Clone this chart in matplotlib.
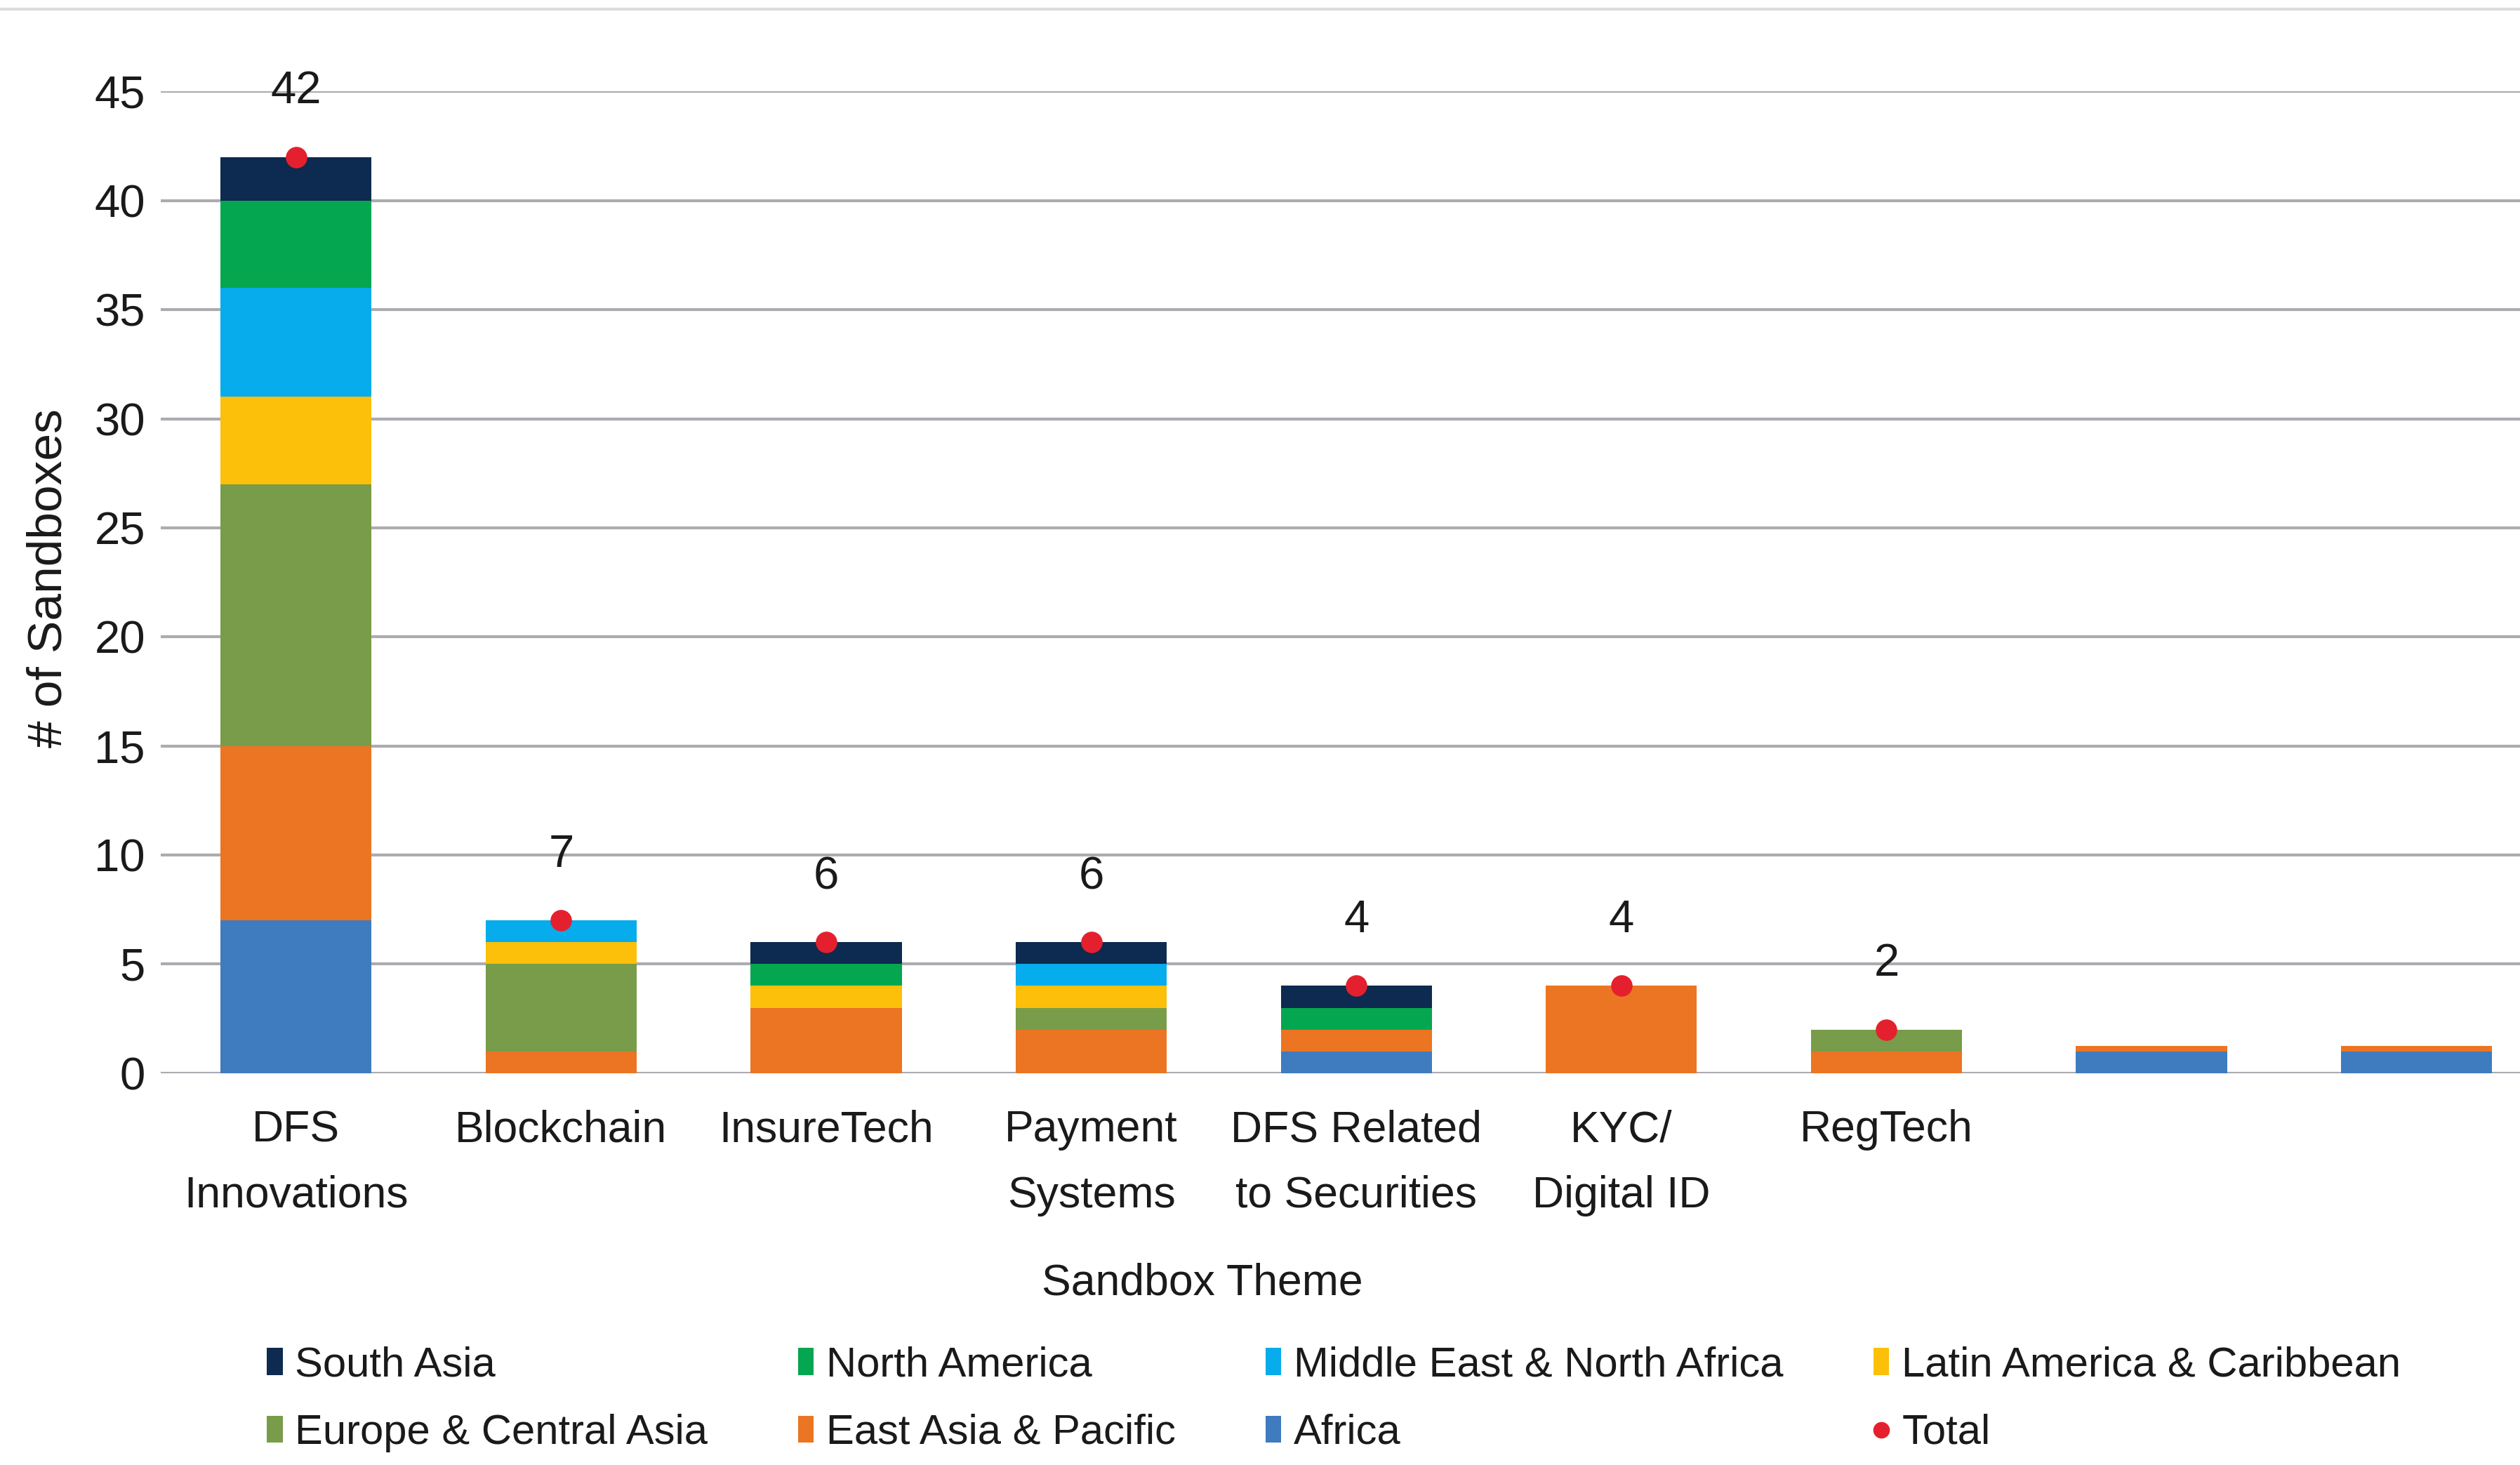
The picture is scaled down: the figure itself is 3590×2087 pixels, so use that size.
import matplotlib
matplotlib.use("Agg")
import matplotlib.pyplot as plt
import numpy as np
from matplotlib.lines import Line2D
from matplotlib.patches import Patch

plt.rcParams["font.family"] = ["Liberation Sans", "DejaVu Sans"]

themes = ["DFS\nInnovations", "Blockchain", "InsureTech", "Payment\nSystems",
          "DFS Related\nto Securities", "KYC/\nDigital ID", "RegTech", "", ""]

# stacked from bottom to top
africa = [7, 0, 0, 0, 1, 0, 0, 1, 1]
east_asia = [8, 1, 3, 2, 1, 4, 1, 0.25, 0.25]
europe = [12, 4, 0, 1, 0, 0, 1, 0, 0]
latam = [4, 1, 1, 1, 0, 0, 0, 0, 0]
mena = [5, 1, 0, 1, 0, 0, 0, 0, 0]
north_america = [4, 0, 1, 0, 1, 0, 0, 0, 0]
south_asia = [2, 0, 1, 1, 1, 0, 0, 0, 0]
totals = [42, 7, 6, 6, 4, 4, 2]

series = [
    ("Africa", africa, "#3F7BBF"),
    ("East Asia & Pacific", east_asia, "#EB7523"),
    ("Europe & Central Asia", europe, "#789C49"),
    ("Latin America & Caribbean", latam, "#FCBF0A"),
    ("Middle East & North Africa", mena, "#06ACEB"),
    ("North America", north_america, "#05A650"),
    ("South Asia", south_asia, "#0D2A50"),
]
colors = {name: c for name, _, c in series}
red = "#E5202E"
ink = "#1a1a1a"

fig = plt.figure(figsize=(35.9, 20.87), dpi=100)
ax = fig.add_axes([0.0638, 0.2675, 0.9362, 0.67])

x = np.arange(len(themes))
bottom = np.zeros(len(themes))
for name, vals, c in series:
    vals = np.array(vals, dtype=float)
    ax.bar(x, vals, width=0.57, bottom=bottom, color=c, zorder=3)
    bottom += vals

xt = x[:len(totals)]
ax.plot(xt, totals, "o", color=red, markersize=21, zorder=4, clip_on=False)
for xi, t in zip(xt, totals):
    ax.text(xi, t + 3, str(t), ha="center", va="center", fontsize=47,
            color=ink, clip_on=False)

ax.set_xlim(-0.51, 8.39)
ax.set_ylim(0, 45)
ax.set_yticks(range(0, 46, 5))
ax.yaxis.grid(True, color="#ababb0", lw=3, zorder=0)
ax.set_axisbelow(True)
for s in ax.spines.values():
    s.set_visible(False)
ax.tick_params(axis="y", length=0, labelsize=47, colors=ink, pad=16)
ax.tick_params(axis="x", length=0, labelsize=45, colors=ink, pad=37)
ax.set_xticks(x)
ax.set_xticklabels(themes, linespacing=1.75)

ax.set_ylabel("# of Sandboxes", fontsize=50, color=ink)
ax.yaxis.set_label_coords(-0.038, 0.504)
fig.text(0.477, 0.124, "Sandbox Theme", ha="center", va="center",
         fontsize=45, color=ink)

order = ["South Asia", "Europe & Central Asia", "North America", "East Asia & Pacific",
         "Middle East & North Africa", "Africa", "Latin America & Caribbean"]
handles = [Patch(facecolor=colors[n], label=n) for n in order]
handles.append(Line2D([0], [0], marker="o", color="none", markerfacecolor=red,
                      markeredgecolor=red, markersize=16, label="Total"))
fig.legend(handles=handles, loc="center left", bbox_to_anchor=(0.091, 0.045),
           ncol=4, frameon=False, fontsize=43, handlelength=0.37, handleheight=0.62,
           handletextpad=0.3, columnspacing=2.15, labelspacing=0.7,
           labelcolor=ink)

fig.add_artist(Line2D([0, 1], [0.9938, 0.9938], color="#dcdcdc", lw=3,
                      transform=fig.transFigure))

fig.savefig("out.png", dpi=100, facecolor="white")
